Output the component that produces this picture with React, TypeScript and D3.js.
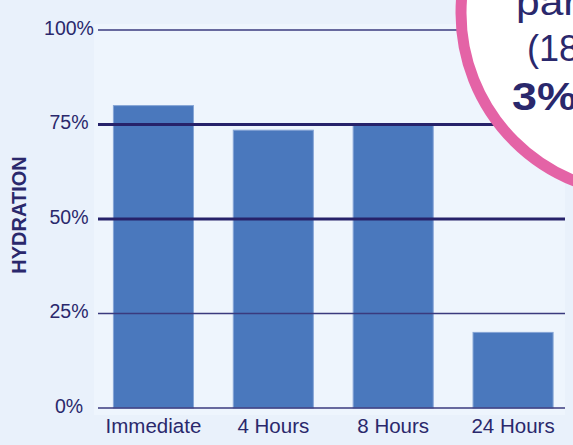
import React from "react";
import * as d3 from "d3";

const categories = ["Immediate", "4 Hours", "8 Hours", "24 Hours"];
const hydration = [80, 73.5, 75, 20];
const yTicks = [0, 25, 50, 75, 100];
const calloutLines = ["partial", "(18 hours)", "3% loss"];

const W = 573;
const H = 445;
const FONT = "'Liberation Sans', Arial, Helvetica, sans-serif";
const INK = "#2a286c";

export default function App() {
  const y = d3.scaleLinear().domain([0, 100]).range([408, 30]);
  const x = d3
    .scaleBand<string>()
    .domain(categories)
    .range([93.5, 573])
    .paddingInner(0.332)
    .paddingOuter(0.166);

  const heavy = (t: number) => t === 50 || t === 75;

  return (
    <svg
      width={W}
      height={H}
      style={{ position: "absolute", left: 0, top: 0, display: "block" }}
    >
      <rect x={0} y={0} width={W} height={H} fill="#e9f1fb" />
      <rect x={94} y={24} width={471} height={391} fill="#eef5fd" />

      {/* bars */}
      {hydration.map((v, i) => (
        <rect
          key={categories[i]}
          x={x(categories[i])}
          y={y(v)}
          width={x.bandwidth()}
          height={y(0) - y(v)}
          fill="#4a78bd"
          stroke="#86a5d6"
          strokeWidth={1}
        />
      ))}

      {/* gridlines drawn over the bars */}
      {yTicks.map((t) => (
        <line
          key={t}
          x1={98}
          x2={565}
          y1={y(t)}
          y2={y(t)}
          stroke={heavy(t) ? "#26226a" : "#3a3a7e"}
          strokeWidth={heavy(t) ? 3 : 1.6}
        />
      ))}

      {/* y tick labels */}
      {yTicks.map((t) => (
        <text
          key={"l" + t}
          x={69}
          y={y(t) - 2}
          dy="0.35em"
          textAnchor="middle"
          fontFamily={FONT}
          fontSize={19.5}
          fill={INK}
        >
          {d3.format(".0%")(t / 100)}
        </text>
      ))}

      {/* x labels */}
      {categories.map((c) => (
        <text
          key={"x" + c}
          x={(x(c) ?? 0) + x.bandwidth() / 2}
          y={432.5}
          textAnchor="middle"
          fontFamily={FONT}
          fontSize={20.5}
          fill={INK}
        >
          {c}
        </text>
      ))}

      <text
        transform="translate(26,215) rotate(-90)"
        textAnchor="middle"
        fontFamily={FONT}
        fontSize={20}
        fontWeight="bold"
        fill={INK}
      >
        HYDRATION
      </text>

      {/* callout bubble */}
      <circle cx={642} cy={13} r={181} fill="#ffffff" stroke="#e463a6" strokeWidth={11} />
      <text transform="translate(516,15) scale(1.15,1)" fontFamily={FONT} fontSize={37} fill={INK}>
        {calloutLines[0]}
      </text>
      <text x={527} y={61} fontFamily={FONT} fontSize={36} fill={INK}>
        {calloutLines[1]}
      </text>
      <text
        transform="translate(512,110) scale(1.18,1)"
        fontFamily={FONT}
        fontSize={38}
        fontWeight="bold"
        fill={INK}
      >
        {calloutLines[2]}
      </text>
    </svg>
  );
}
